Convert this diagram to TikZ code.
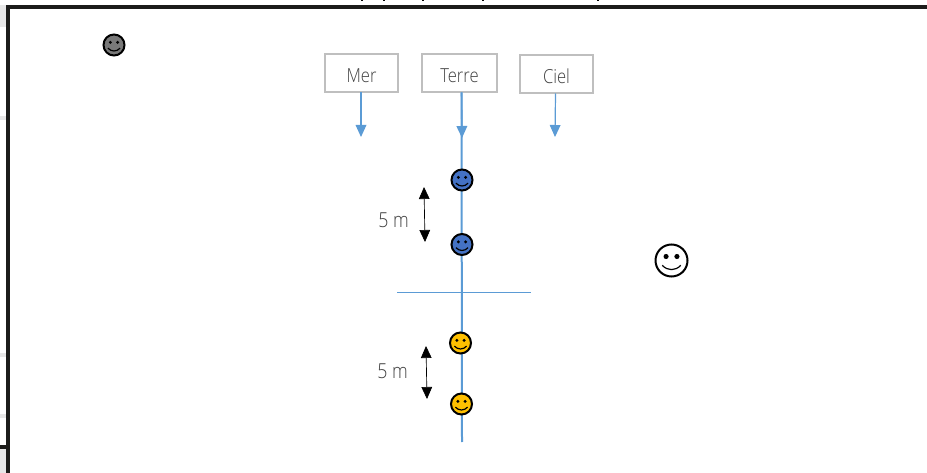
\documentclass[tikz,border=0pt]{standalone}
\usepackage{fontspec}
\setmainfont{Open Sans Light}[UprightFont={Open Sans Light}, FakeStretch=0.86]
\usetikzlibrary{positioning, arrows.meta}
\definecolor{skyblue}{HTML}{5B9BD5}
\definecolor{boxgray}{HTML}{BFBFBF}
\definecolor{textgray}{HTML}{404040}
\definecolor{bluehead}{HTML}{4472C4}
\definecolor{yellowhead}{HTML}{FFC000}
\definecolor{framedark}{HTML}{1C1C1A}
\definecolor{tabgray}{HTML}{E7E7E7}
% a face drawn round a named node: #1 name, #2 position, #3 fill, #4 radius
\newcommand{\smiley}[4]{
  \node[facehead, fill=#3, minimum size=#4*1.5pt] (#1) at (#2) {};
  \fill ([shift={(-0.34*#4,-0.25*#4)}]#1.center) circle (0.16*#4);
  \fill ([shift={(0.34*#4,-0.25*#4)}]#1.center) circle (0.16*#4);
  \draw[line width=0.9pt] ([shift={(-0.58*#4,0.3*#4)}]#1.center)
    .. controls ([shift={(-0.25*#4,0.66*#4)}]#1.center) and ([shift={(0.25*#4,0.66*#4)}]#1.center)
    .. ([shift={(0.58*#4,0.3*#4)}]#1.center);
}
\tikzset{
  facehead/.style={circle, draw=black, line width=1.5pt, inner sep=0pt},
  labelbox/.style={draw=boxgray, line width=1.1pt, fill=white, text=textgray, minimum height=28.5pt, text height=14.5pt, text depth=0pt, inner ysep=0pt, font=\fontsize{14.5}{16}\selectfont},
  bluearrow/.style={draw=skyblue, -{Triangle[length=9pt, width=8pt]}},
  gaparrow/.style={black, line width=0.5pt, {Triangle[length=9pt, width=8pt]}-{Triangle[length=9pt, width=8pt]}},
  gaplabel/.style={text=textgray, font=\fontsize{15.5}{17}\selectfont}
}
\begin{document}
\begin{tikzpicture}[x=0.75pt, y=-0.75pt]
  \useasboundingbox (0,0) rectangle (927,473);

  % Bits of the page behind the frame
  \fill[tabgray] (0,5) rectangle (6,27);
  \fill[tabgray] (0,116) rectangle (6,120);
  \fill[tabgray] (0,353) rectangle (6,357);
  \fill[tabgray] (0,414) rectangle (6,418);
  \fill[tabgray] (0,449) rectangle (6,473);
  \fill[framedark] (0,445) rectangle (6,449);
  \foreach \xpos in {362, 384, 423, 483, 598} {
    \fill[black] (\xpos-1,0) rectangle (\xpos+1,1.5);
  }
  \begin{scope}
    \clip (0,200) rectangle (6,400);
    \node[text=textgray, font=\fontsize{11}{13}\selectfont, anchor=east] (cutu) at (5,232) {U};
    \node[text=textgray, font=\fontsize{11}{13}\selectfont, anchor=east] (cute) at (4,372) {e};
  \end{scope}

  % Frame
  \fill[framedark] (6,5) rectangle (927,9);
  \fill[framedark] (6,5) rectangle (10,473);

  % Boxes
  \node[labelbox, minimum width=54.5pt] (mer) at (361.5,73) {Mer};
  \node[labelbox, minimum width=56.5pt] (terre) at (459.5,73) {Terre};
  \node[labelbox, minimum width=54.5pt] (ciel) at (556.5,74) {Ciel};

  \coordinate (merend) at (361,137);
  \coordinate (terreend) at (462,138);
  \coordinate (cielend) at (555,137);
  \coordinate (axisend) at (462,442);
  \coordinate (merstart) at (361,92.5);
  \coordinate (terrestart) at (461.5,92.5);
  \coordinate (cielstart) at (555.5,93.5);

  % Axis and arrows
  \draw[skyblue, line width=1.5pt] (terrestart) -- (axisend);
  \draw[bluearrow, line width=0.9pt] (merstart) -- (merend);
  \draw[bluearrow, line width=1.2pt] (terrestart) -- (terreend);
  \draw[bluearrow, line width=0.9pt] (cielstart) -- (cielend);

  \coordinate (crossleft) at (397,292.5);
  \coordinate (crossright) at (531,292.5);
  \draw[skyblue, line width=0.9pt] (crossleft) -- (crossright);

  % Faces
  \smiley{grayface}{114,45}{gray!95!black}{10.5}
  \smiley{blueone}{462,180}{bluehead}{10.5}
  \smiley{bluetwo}{462,244.5}{bluehead}{10.5}
  \smiley{yellowone}{460.5,343}{yellowhead}{10.5}
  \smiley{yellowtwo}{461.5,404}{yellowhead}{10.5}
  \smiley{whiteface}{671.5,260.5}{white}{16}

  % Distances
  \coordinate (uppertop) at (424,187);
  \coordinate (upperbottom) at (425,242);
  \coordinate (lowertop) at (426,346);
  \coordinate (lowerbottom) at (427,399);
  \draw[gaparrow] (uppertop) -- (upperbottom);
  \draw[gaparrow] (lowertop) -- (lowerbottom);
  \node[gaplabel] (upperdist) at (393.5,220.5) {5 m};
  \node[gaplabel] (lowerdist) at (392.5,371.5) {5 m};
\end{tikzpicture}
\end{document}
